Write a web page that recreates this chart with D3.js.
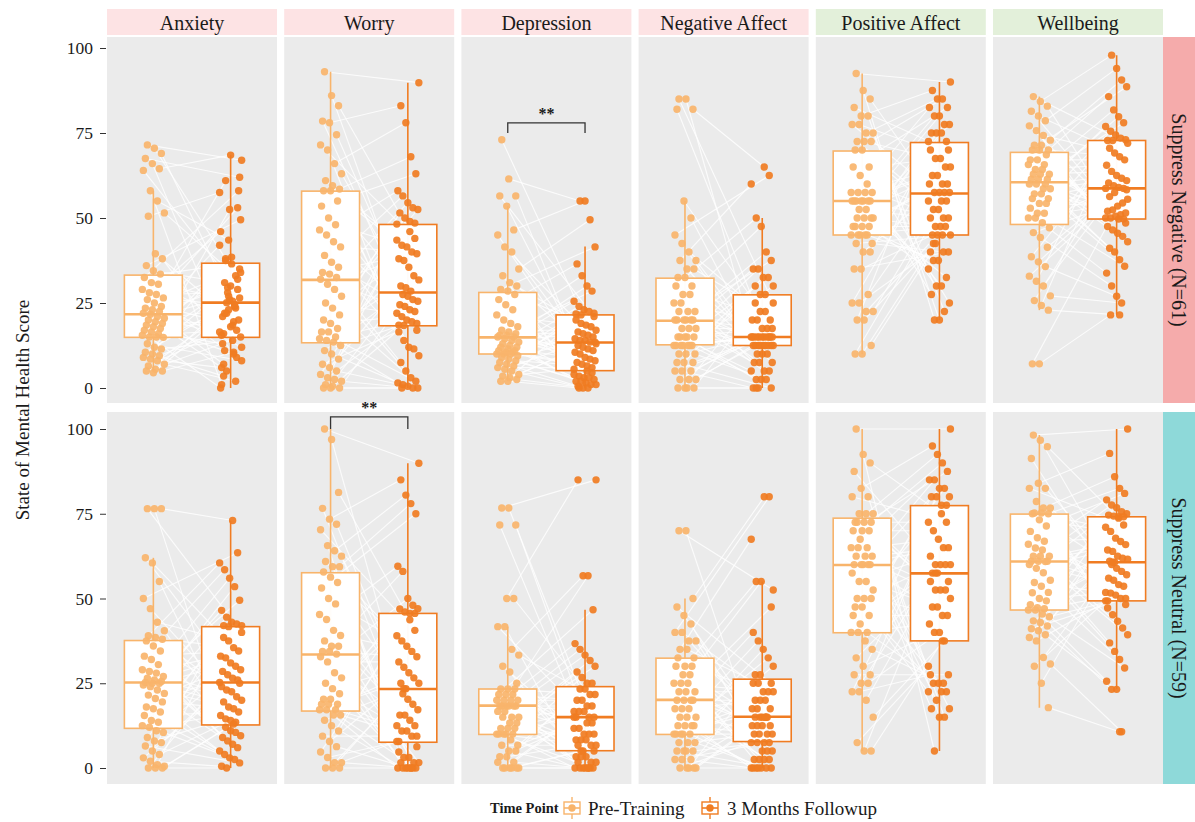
<!DOCTYPE html>
<html>
<head>
<meta charset="utf-8">
<script src="https://cdn.jsdelivr.net/npm/d3@7"></script>
<style>
  body { margin: 0; background: #ffffff; }
  svg { display: block; }
  text { font-family: "Liberation Serif", "Times New Roman", serif; fill: #1a1a1a; }
</style>
</head>
<body>
<svg id="chart" width="1195" height="822"></svg>
<script>
// ---- categories and labels ----
const measures = ["Anxiety", "Worry", "Depression", "Negative Affect", "Positive Affect", "Wellbeing"];
const groupLabels = ["Suppress Negative (N=61)", "Suppress Neutral (N=59)"];
const timeLabels = ["Pre-Training", "3 Months Followup"];
const yTickValues = [0, 25, 50, 75, 100];
const legendTitle = "Time Point";

// ---- Suppress Negative group: scores per participant (same index = same person) ----
const negAnxietyPre = [71.5,70.5,69,67.5,66,64.5,64,58,55,51.5,50.5,39.5,38,36,34.5,33.5,
  32.5,31,30.5,29,28,27.5,26.5,26,25,24,23.5,23,22.5,22,21.7,
  21,20.5,20,19.5,19,18.5,18,17.5,17,16.5,16,15.5,15,15,14.9,
  13,12,11.5,10.5,10,9.5,9,8.5,8,7,6.5,5.5,5,5,4.5];
const negAnxietyPost = [67,38,25.5,62,16,68.5,29,1,43.5,33,57.5,22,10,49.5,31,
  36.5,58,21,26,9,46,28,24,12,61,18.5,35,7,30,53,
  15.5,27,23.5,42,5,19.5,34,11,38.5,20,13,52.5,17,0,29.5,
  24.5,8,37.5,14,26.5,3.5,18,32,6,23,2,16.5,25.1,10.5,15,22];

const negWorryPre = [93,86,83,78.5,78,74.5,71.5,70,66,63,61,59.5,58.5,58,58,
  55,53.5,50,48,46.5,45,43,41.5,39,37,35.5,34,33.5,32.5,32,
  30.5,29,27,25,23.5,21.5,20,19,17.5,16.5,16.5,15,14.5,14,13.5,
  12.5,11,10,8.5,7,6,5,4,3,2.5,2,1,0.5,0,0,0];
const negWorryPost = [89.8,27.5,46,17,83,27,44,16.5,78,26,43.5,14,68,25.5,42,12,
  63,24.5,41.5,11.5,58,24,40,9.5,56.5,23,39.5,7.5,54.5,22.5,38,5,
  53,22,37.5,3,52.5,21,35.5,2,51.5,20,33,1.5,50,19.5,31.8,1,
  49,19,30,0.5,48.5,18.5,29.5,0,48.2,18.4,28.5,0,0];

const negDepressionPre = [73,61.5,56.5,56.5,53.5,46.5,45,41.5,40,35,33,31,30,29,28.5,
  27.5,26,24.5,23,21.5,20,19,18,17,16.5,16,15.5,15.5,15,15,
  14.5,14,13.5,13,12.5,12,12,11.5,11,11,10.5,10.5,10,10,10,
  9.5,9,8.5,8,7.5,7,6.5,6,5.5,5,4,3.5,3,2.5,2,2];
const negDepressionPost = [13,55,5,21,12.5,55,4.5,20,12,49.5,4,19,11.5,41.5,3.5,18.5,
  11,36.5,3,18,10.5,33,3,17,10,30,2.5,16.5,9,28.5,2,16,
  8.5,25.5,2,15.5,8,24,1.5,15,7.5,23,1,14.5,7,22.5,1,14,
  6.5,22,0.5,14,6,21.8,0,13.5,5.5,21.5,0,13.5,0];

const negNegAffectPre = [85,85,82,82,55,50,45,42.5,40,37.5,37.5,35,35,32.5,32.5,
  30,30,27.5,27.5,25,25,22.5,22.5,22.5,20,20,20,20,20,20,
  17.5,17.5,17.5,15,15,15,15,15,12.5,12.5,12.5,12.5,12.5,12.5,12.5,
  10,10,10,7.5,7.5,7.5,5,5,5,2.5,2.5,2.5,0,0,0,0];
const negNegAffectPost = [25,10,65,12.5,25,10,62.5,12.5,22.5,10,60,12.5,22.5,7.5,50,12.5,
  20,7.5,47.5,12.5,20,7.5,40,12.5,20,5,37.5,12.5,17.5,5,35,12.5,
  17.5,5,35,12.5,17.5,2.5,32.5,15,15,2.5,32.5,15,15,2.5,30,15,
  15,0,30,15,15,0,27.5,15,15,0,27.5,15,0];

const negPosAffectPre = [92.5,87.5,85,82.5,80,80,77.5,77.5,75,75,72.5,72.5,72.5,70,70,
  65,65,62.5,60,57.5,57.5,57.5,57.5,55,55,55,55,55,55,55,
  52.5,52.5,50,50,50,50,47.5,47.5,47.5,47.5,45,45,45,45,45,
  42.5,42.5,40,40,35,35,27.5,25,25,22.5,22.5,20,20,12.5,10,10];
const negPosAffectPost = [90,20,55,70,87.5,20,55,70,85,22.5,55,67.5,85,25,52.5,67.5,
  82.5,27.5,52.5,65,82.5,30,50,65,80,30,50,62.5,80,32.5,50,62.5,
  77.5,35,47.5,60,77.5,37.5,47.5,60,75,37.5,47.5,60,75,40,45,57.5,
  75,40,45,57.5,72.5,40,45,57.5,72.5,42.5,45,57.5,42.5];

const negWellbeingPre = [85.7,84.3,82.9,81.4,80,78.6,77.1,75.7,74.3,72.9,71.4,71.4,70,70,70,
  68.6,67.1,67.1,65.7,65.7,64.3,64.3,62.9,62.9,62.9,61.4,61.4,61.4,60,60,
  60,58.6,58.6,57.1,57.1,55.7,55.7,54.3,54.3,52.9,51.4,51.4,50,50,48.6,
  47.1,45.7,44.3,41.4,38.6,37.1,35.7,32.9,31.4,30,27.1,25.7,24.3,22.9,7.1,7.1];
const negWellbeingPost = [72,97.9,49.7,48.5,70.5,94,49.7,47.5,69.1,90.6,50,46.5,68,88.6,50,45.5,
  67.1,85.7,50.5,44.6,65.5,81.8,51,43,63.7,79.8,51.5,41.1,62.5,78,52,40,
  61.7,76.9,52.4,37.7,61,75.5,53.5,35.8,60.3,74.4,54.4,33.8,59.5,73.5,55.5,30,
  59,73,56.3,27,58.7,72.8,57.5,25,58.7,72.8,21.5,58.3,21.5];

// ---- Suppress Neutral group ----
const neuAnxietyPre = [76.5,76.5,76.5,62,60.5,55,50,47,43,40.5,39,38.5,38,37.5,
  36,34.5,33,32,30.5,29,28.5,28,27,26.5,26,25.5,25.2,25,25,
  24.5,24,23,22,21.5,20.5,19.5,18,17.5,16.5,15.5,14,13.5,12.5,12,
  11,10.5,9,8,7.5,6.5,5,4,3,2,1,0.5,0,0,0];
const neuAnxietyPost = [40,12,73,25,38.5,11,63.5,24,37.5,10.5,60.5,23,35.5,9.5,58.5,22.5,
  34.5,9,56,21,33,8,53.5,20,32.5,7,49.5,19.5,31,6,46.5,18,
  30,5,44.5,17.5,29,4,43,16.5,28.5,3,42.5,15.5,27.5,2.5,42,14.5,
  26.5,1.5,42,14,26,0.5,41.7,13.5,25.2,0,13];

const neuWorryPre = [100,96.9,81.3,76.6,73.4,71.9,70.3,65.6,64.1,62.5,60.9,59.4,59.4,57.8,
  56.3,54.7,53.1,50,48.4,45.3,43.8,40.6,39.1,37.5,35.9,35.9,34.4,34.4,33.6,
  32.8,31.3,28.1,26.6,25,23.4,21.9,20.3,20.3,18.8,18.8,18.8,17.2,17.2,17.2,
  15.6,15.6,14.1,12.5,10.9,9.4,7.8,6.3,4.7,3.1,1.6,1.6,0,0,0];
const neuWorryPost = [89.9,21.9,43.7,6.3,85,20.3,40.6,4.7,80.5,18.8,39,3.1,78,17.2,37.5,3.1,
  75,15.6,35.9,1.6,59.5,15.6,34.4,1.6,58,14.1,32.8,1.6,50,12.5,31.3,0,
  48,12.5,29.7,0,47,10.9,28.1,0,46.9,10.9,26.6,0,46,9.4,25,0,
  45.6,9.4,25,0,45.6,7.8,23.4,0,7.8,23.4,0];

const neuDepressionPre = [76.7,76.7,71.7,71.7,50,50,41.7,41.7,35,33.3,30,28.3,25,23.3,
  23.3,23.3,21.7,21.7,21.7,20,20,20,20,18.3,18.3,18.3,18.3,18.3,18.3,
  16.7,16.7,15,15,15,13.3,13.3,11.7,11.7,11.7,10,10,10,10,10,
  8.3,6.7,6.7,5,5,3.3,3.3,1.7,1.7,0,0,0,0,0,0];
const neuDepressionPost = [85,23.3,13.3,5,85,23.3,13.3,3.3,56.7,21.7,11.7,3.3,56.7,21.7,11.7,3.3,
  46.7,20,10,1.7,36.7,20,10,1.7,35,18.3,10,1.7,33.3,18.3,8.3,0,
  31.7,16.7,8.3,0,30,16.7,8.3,0,28.3,16.7,6.7,0,26.7,15,6.7,0,
  25,15,6.7,0,25,15,5,0,15,5,0];

const neuNegAffectPre = [70,70,50,47.5,45,42.5,40,40,37.5,37.5,35,35,32.5,32.5,
  30,30,30,27.5,27.5,25,25,25,22.5,22.5,22.5,20,20,20,20,
  17.5,17.5,17.5,15,15,15,12.5,12.5,12.5,12.5,10,10,10,10,10,
  7.5,7.5,7.5,5,5,5,5,2.5,2.5,2.5,0,0,0,0,0];
const neuNegAffectPost = [52.5,7.5,80,25,15,5,80,25,15,5,67.5,25,15,5,55,22.5,
  12.5,2.5,55,22.5,12.5,2.5,15,22.5,12.5,2.5,47.5,20,12.5,2.5,40,20,
  10,0,37.5,20,10,0,35,17.5,10,0,32.5,17.5,10,0,30,17.5,
  7.5,0,27.5,15,7.5,0,27.5,15,7.5,0,15];

const neuPosAffectPre = [100,92.5,90,87.5,82.5,80,80,75,75,75,72.5,72.5,72.5,72.5,
  70,70,70,67.5,65,65,65,62.5,62.5,62.5,60,60,60,60,60,
  57.5,55,55,52.5,50,50,50,47.5,47.5,45,45,42.5,40,40,40,
  37.5,35,32.5,30,27.5,27.5,25,25,22.5,22.5,20,15,7.5,5,5];
const neuPosAffectPost = [100,5,75,55,95,15,72.5,55,92.5,15,72.5,52.5,90,17.5,70,52.5,
  87.5,17.5,67.5,52.5,85,20,65,50,85,22.5,65,47.5,82.5,22.5,62.5,47.5,
  82.5,22.5,60,45,80,25,60,45,80,25,60,42.5,80,25,60,40,
  77.5,27.5,57.5,40,77.5,27.5,57.5,37.5,30,57.5,37.5];

const neuWellbeingPre = [98.2,96.7,94.8,91.3,84,82.5,82.5,78.6,76.7,76.7,75.2,75.2,75,75,
  73.2,71.4,69.8,67.9,66.9,66,64.9,64.3,62.5,62.5,62.5,61,61,61,60.9,
  60,58.9,57.6,55.4,54.7,53.6,51.8,51.7,50,49.3,48.2,47.3,47,46.6,46.6,
  45.4,44.6,43.4,42.9,41.9,41.1,40.5,39.3,38.5,37.5,32.6,30.7,30,25,17.8];
const neuWellbeingPost = [100,60,73.7,48.2,92.8,58.9,71.7,47.2,85.9,58,71,45.2,82.5,57,69.8,43.3,
  81,56,67.8,41.3,79.1,55.4,66.8,39.3,77.6,54.1,65.9,36.9,76.8,53.6,64.3,34.4,
  75.6,51.8,63.9,32,75,51.6,62.5,29.5,74.6,51,61.9,25.6,74.3,50,61.6,23.2,
  74.1,50,61,23.2,74.1,49.3,60.7,10.7,49.3,60.7,10.7];

// ---- box summaries [lower whisker, Q1, median, Q3, upper whisker], one per measure ----
const negPreBox  = [[5,14.9,21.7,33.2,58],[0,13.3,31.8,57.9,93],[2,10,14.9,28.1,53.5],[0,12.7,19.8,32.3,55],[10,45,55,69.7,92.5],[22.9,48.1,60.5,69.3,85.7]];
const negPostBox = [[0,14.9,25.1,36.7,68.5],[0,18.3,28.1,48.1,89.8],[0,5.1,13.4,21.5,41.6],[0,12.5,15,27.4,50],[20,45,57.2,72.2,90],[21.5,49.7,58.7,72.8,97.9]];
const neuPreBox  = [[0,11.7,25.2,37.6,62],[0,16.8,33.5,57.6,100],[0,9.9,18.4,23.3,41.7],[0,9.9,20.1,32.4,50],[5,39.9,59.9,73.7,100],[17.8,46.6,60.9,74.9,98.2]];
const neuPostBox = [[0,12.7,25.2,41.7,73],[0,7.6,23.3,45.6,89.9],[0,5.1,15,24,46.7],[0,7.8,15.1,26.2,55],[5,37.5,57.4,77.4,100],[23.2,49.3,60.7,74.1,100]];

// ---- significance brackets (group row, measure column, label, bracket top, bracket foot) ----
const sigRows = [0, 1];
const sigCols = [2, 1];
const sigLabels = ["**", "**"];
const sigTops = [78, 103.6];
const sigFeet = [75, 100];

// ---- assemble ----
const scores = [
  [[negAnxietyPre, negAnxietyPost], [negWorryPre, negWorryPost], [negDepressionPre, negDepressionPost],
   [negNegAffectPre, negNegAffectPost], [negPosAffectPre, negPosAffectPost], [negWellbeingPre, negWellbeingPost]],
  [[neuAnxietyPre, neuAnxietyPost], [neuWorryPre, neuWorryPost], [neuDepressionPre, neuDepressionPost],
   [neuNegAffectPre, neuNegAffectPost], [neuPosAffectPre, neuPosAffectPost], [neuWellbeingPre, neuWellbeingPost]]
];
const boxes = [[negPreBox, negPostBox], [neuPreBox, neuPostBox]];

// ---- layout & style ----
const timeColors = ["#F8B46B", "#F07C22"];
const panelBg = "#EBEBEB";
const topStripColors = ["#FDE3E4", "#FDE3E4", "#FDE3E4", "#FDE3E4", "#E3F0DA", "#E3F0DA"];
const sideStripColors = ["#F5ABAB", "#8ED9D9"];
const panelX0 = 107, panelW = 170, panelStep = 177.2;
const stripTop = 9, stripBottom = 35;
const rowsLayout = [
  { top: 37, bottom: 403, y0: 388, y100: 48 },
  { top: 412, bottom: 784, y0: 768, y100: 429 }
];
const sideStripX = 1162;

const svg = d3.select("#chart");

const yScales = rowsLayout.map(r => d3.scaleLinear().domain([0, 100]).range([r.y0, r.y100]));
const xScales = measures.map((m, c) => {
  const left = panelX0 + c * panelStep;
  return d3.scalePoint().domain([0, 1]).range([left, left + panelW]).padding(0.6);
});
const boxHalf = xScales[0].step() * 0.75 / 2;

// small deterministic horizontal spread for the points
const spread = (i, t) => (((i * 53 + t * 17 + 5) % 23) - 11) * 1.0;

// top strips
measures.forEach((m, c) => {
  const left = panelX0 + c * panelStep;
  svg.append("rect").attr("x", left).attr("y", stripTop).attr("width", panelW)
    .attr("height", stripBottom - stripTop).attr("fill", topStripColors[c]);
  svg.append("text").attr("x", left + panelW / 2).attr("y", (stripTop + stripBottom) / 2 + 1)
    .attr("text-anchor", "middle").attr("dominant-baseline", "central")
    .attr("font-size", 20).text(m);
});

// side strips
groupLabels.forEach((g, r) => {
  const L = rowsLayout[r];
  svg.append("rect").attr("x", sideStripX).attr("y", L.top).attr("width", 1195 - sideStripX)
    .attr("height", L.bottom - L.top).attr("fill", sideStripColors[r]);
  const cx = sideStripX + (1195 - sideStripX) / 2, cy = (L.top + L.bottom) / 2;
  svg.append("text").attr("transform", `translate(${cx},${cy}) rotate(90)`)
    .attr("text-anchor", "middle").attr("dominant-baseline", "central")
    .attr("font-size", 20).text(g);
});

// panels
rowsLayout.forEach((L, r) => {
  const y = yScales[r];
  // y axis
  const axisG = svg.append("g").attr("transform", `translate(${panelX0 - 4},0)`);
  axisG.call(d3.axisLeft(y).tickValues(yTickValues).tickSize(6).tickPadding(4));
  axisG.select(".domain").remove();
  axisG.selectAll("line").attr("stroke", "#333").attr("transform", "translate(3,0)");
  axisG.selectAll("text").attr("font-size", 17.5).attr("fill", "#333")
    .style("font-family", '"Liberation Serif", serif');

  measures.forEach((m, c) => {
    const x = xScales[c];
    const left = panelX0 + c * panelStep;
    const g = svg.append("g");
    g.append("rect").attr("x", left).attr("y", L.top).attr("width", panelW)
      .attr("height", L.bottom - L.top).attr("fill", panelBg);

    const [pre, post] = scores[r][c];
    const pairs = pre.map((v, i) => ({ i, a: v, b: post[i] }));

    // paired lines
    g.selectAll("line.pair").data(pairs).join("line").attr("class", "pair")
      .attr("x1", d => x(0) + spread(d.i, 0)).attr("y1", d => y(d.a))
      .attr("x2", d => x(1) + spread(d.i, 1)).attr("y2", d => y(d.b))
      .attr("stroke", "#ffffff").attr("stroke-width", 1.15).attr("stroke-opacity", 0.8);

    // boxes
    [0, 1].forEach(t => {
      const [lo, q1, md, q3, hi] = boxes[r][t][c];
      const cx = x(t);
      const col = timeColors[t];
      g.append("line").attr("x1", cx).attr("x2", cx).attr("y1", y(lo)).attr("y2", y(hi))
        .attr("stroke", col).attr("stroke-width", 1.6);
      g.append("rect").attr("x", cx - boxHalf).attr("width", boxHalf * 2)
        .attr("y", y(q3)).attr("height", y(q1) - y(q3))
        .attr("fill", "#ffffff").attr("fill-opacity", 0.97)
        .attr("stroke", col).attr("stroke-width", 1.6);
      g.append("line").attr("x1", cx - boxHalf).attr("x2", cx + boxHalf)
        .attr("y1", y(md)).attr("y2", y(md)).attr("stroke", col).attr("stroke-width", 2.6);
    });

    // points
    [pre, post].forEach((vals, t) => {
      g.selectAll(`circle.t${t}`).data(vals).join("circle").attr("class", `t${t}`)
        .attr("cx", (v, i) => x(t) + spread(i, t)).attr("cy", v => y(v))
        .attr("r", 3.7).attr("fill", timeColors[t]).attr("fill-opacity", 0.92);
    });
  });
});

// significance brackets
sigRows.forEach((r, k) => {
  const c = sigCols[k];
  const x = xScales[c], y = yScales[r];
  const x1 = x(0), x2 = x(1);
  const top = y(sigTops[k]), foot = y(sigFeet[k]);
  svg.append("path")
    .attr("d", `M${x1},${foot} L${x1},${top} L${x2},${top} L${x2},${foot}`)
    .attr("fill", "none").attr("stroke", "#333").attr("stroke-width", 1.3);
  svg.append("text").attr("x", (x1 + x2) / 2).attr("y", top - 4)
    .attr("text-anchor", "middle").attr("font-size", 16).attr("font-weight", "bold")
    .text(sigLabels[k]);
});

// y axis title
svg.append("text").attr("transform", "translate(22,410) rotate(-90)")
  .attr("text-anchor", "middle").attr("dominant-baseline", "central")
  .attr("font-size", 19).text("State of Mental Health Score");

// legend
const legY = 808;
const leg = svg.append("g");
leg.append("text").attr("x", 490).attr("y", legY).attr("dominant-baseline", "central")
  .attr("font-size", 14.5).attr("font-weight", "bold").text(legendTitle);
const keyX = [572, 710];
const labelX = [588, 727];
timeLabels.forEach((lab, t) => {
  const kx = keyX[t];
  const col = timeColors[t];
  leg.append("line").attr("x1", kx).attr("x2", kx).attr("y1", legY - 11).attr("y2", legY + 11)
    .attr("stroke", col).attr("stroke-width", 1.4);
  leg.append("rect").attr("x", kx - 8).attr("y", legY - 6).attr("width", 16).attr("height", 12)
    .attr("fill", "#ffffff").attr("stroke", col).attr("stroke-width", 1.4);
  leg.append("line").attr("x1", kx - 8).attr("x2", kx + 8).attr("y1", legY).attr("y2", legY)
    .attr("stroke", col).attr("stroke-width", 1.6);
  leg.append("circle").attr("cx", kx).attr("cy", legY).attr("r", 3.7).attr("fill", col);
  leg.append("text").attr("x", labelX[t]).attr("y", legY).attr("dominant-baseline", "central")
    .attr("font-size", 19).text(lab);
});
</script>
</body>
</html>
